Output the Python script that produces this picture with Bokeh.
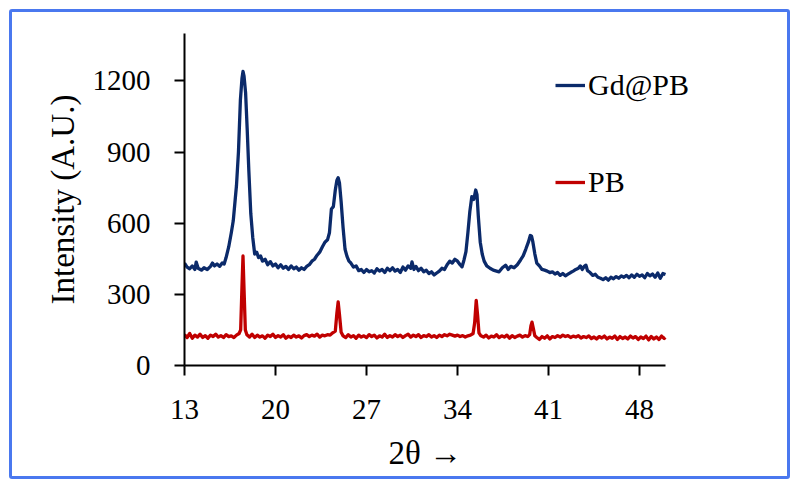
from bokeh.plotting import figure
from bokeh.models import Range1d, FixedTicker, Legend, LegendItem, Title
from bokeh.embed import file_html
from bokeh.resources import INLINE

# ---- data (2theta in degrees, intensity in A.U.) ----
gd_x = [13.0, 13.2, 13.4, 13.6, 13.8, 13.9, 14.05, 14.3, 14.5, 14.75, 15.0, 15.15, 15.3, 15.5, 15.7, 15.9,
        16.05, 16.2, 16.4, 16.6, 16.75, 16.9, 17.0, 17.15, 17.3, 17.42, 17.5, 17.58, 17.7, 17.82, 17.95,
        18.1, 18.25, 18.4, 18.55, 18.7, 18.85, 19.0, 19.2, 19.4, 19.6, 19.8, 20.0, 20.2, 20.4, 20.6, 20.8,
        21.0, 21.2, 21.4, 21.6, 21.8, 22.0, 22.2, 22.4, 22.6, 22.8, 23.0, 23.2, 23.4, 23.6, 23.8, 24.0,
        24.15, 24.3, 24.45, 24.6, 24.72, 24.82, 24.92, 25.05, 25.2, 25.35, 25.5, 25.65, 25.8, 26.0, 26.2,
        26.4, 26.6, 26.8, 27.0, 27.2, 27.4, 27.6, 27.8, 28.0, 28.2, 28.4, 28.6, 28.8, 29.0, 29.2, 29.4,
        29.6, 29.8, 30.0, 30.2, 30.4, 30.5, 30.65, 30.8, 31.0, 31.2, 31.4, 31.6, 31.8, 32.0, 32.2, 32.4,
        32.6, 32.8, 33.0, 33.2, 33.4, 33.6, 33.8, 34.0, 34.2, 34.35, 34.5, 34.65, 34.8, 34.95, 35.1, 35.25,
        35.4, 35.5, 35.6, 35.75, 35.9, 36.05, 36.25, 36.5, 36.75, 37.0, 37.2, 37.45, 37.7, 37.9, 38.1,
        38.35, 38.6, 38.85, 39.05, 39.25, 39.45, 39.6, 39.7, 39.8, 39.95, 40.1, 40.3, 40.5, 40.7, 40.9,
        41.1, 41.3, 41.5, 41.7, 41.9, 42.1, 42.3, 42.5, 42.7, 42.9, 43.1, 43.3, 43.45, 43.6, 43.75, 43.88,
        44.0, 44.2, 44.4, 44.6, 44.8, 45.0, 45.2, 45.4, 45.6, 45.8, 46.0, 46.2, 46.4, 46.6, 46.8, 47.0,
        47.2, 47.4, 47.6, 47.8, 48.0, 48.2, 48.4, 48.6, 48.8, 49.0, 49.2, 49.4, 49.6, 49.8, 50.0]
gd_y = [432, 415, 408, 420, 405, 436, 410, 402, 412, 405, 418, 432, 420, 428, 418, 432,
        428, 455, 500, 560, 610, 700, 760, 900, 1120, 1210, 1240, 1220, 1150, 1000, 820,
        640, 540, 470, 478, 455, 462, 440, 448, 425, 438, 420, 428, 412, 425, 410, 418,
        405, 420, 408, 415, 402, 412, 405, 418, 425, 440, 448, 465, 478, 500, 520, 530,
        560, 660, 670, 740, 780, 792, 770, 690, 580, 490, 460, 440, 432, 415, 420,
        400, 405, 392, 405, 395, 400, 390, 408, 398, 405, 392, 410, 400, 412, 398, 405,
        392, 415, 402, 420, 410, 437, 405, 418, 400, 410, 395, 402, 388, 395, 382, 390,
        398, 410, 405, 425, 440, 432, 448, 440, 425, 416, 445, 480, 560, 650, 712, 700,
        740, 720, 630, 520, 470, 440, 420, 410, 402, 398, 395, 412, 423, 405, 418,
        412, 425, 445, 462, 490, 520, 548, 545, 520, 470, 432, 420, 405, 402, 398,
        392, 395, 386, 392, 380, 388, 378, 385, 392, 398, 405, 410, 420, 405, 418, 423,
        400, 392, 380, 385, 372, 368, 362, 370, 360, 372, 366, 375, 368, 378, 372, 380,
        370, 382, 372, 385, 376, 382, 370, 388, 378, 386, 372, 390, 368, 388, 384]

pb_x = [13.0, 13.2, 13.4, 13.6, 13.8, 14.0, 14.2, 14.4, 14.6, 14.8, 15.0, 15.2, 15.4, 15.6, 15.8, 16.0,
        16.2, 16.4, 16.6, 16.8, 17.0, 17.2, 17.32, 17.42, 17.5, 17.58, 17.68, 17.8, 18.0, 18.2, 18.4,
        18.6, 18.8, 19.0, 19.2, 19.4, 19.6, 19.8, 20.0, 20.2, 20.4, 20.6, 20.8, 21.0, 21.2, 21.4, 21.6,
        21.8, 22.0, 22.2, 22.4, 22.6, 22.8, 23.0, 23.2, 23.4, 23.6, 23.8, 24.0, 24.2, 24.4, 24.6, 24.72,
        24.82, 24.92, 25.05, 25.2, 25.4, 25.6, 25.8, 26.0, 26.2, 26.4, 26.6, 26.8, 27.0, 27.2, 27.4,
        27.6, 27.8, 28.0, 28.2, 28.4, 28.6, 28.8, 29.0, 29.2, 29.4, 29.6, 29.8, 30.0, 30.2, 30.4, 30.6,
        30.8, 31.0, 31.2, 31.4, 31.6, 31.8, 32.0, 32.2, 32.4, 32.6, 32.8, 33.0, 33.2, 33.4, 33.6, 33.8,
        34.0, 34.2, 34.4, 34.6, 34.8, 35.0, 35.2, 35.32, 35.44, 35.55, 35.65, 35.8, 36.0, 36.2, 36.4,
        36.6, 36.8, 37.0, 37.2, 37.4, 37.6, 37.8, 38.0, 38.2, 38.4, 38.6, 38.8, 39.0, 39.2, 39.4, 39.55,
        39.65, 39.73, 39.82, 39.95, 40.1, 40.3, 40.5, 40.7, 40.9, 41.1, 41.3, 41.5, 41.7, 41.9, 42.1,
        42.3, 42.5, 42.7, 42.9, 43.1, 43.3, 43.5, 43.7, 43.9, 44.1, 44.3, 44.5, 44.7, 44.9, 45.1, 45.3,
        45.5, 45.7, 45.9, 46.1, 46.3, 46.5, 46.7, 46.9, 47.1, 47.3, 47.5, 47.7, 47.9, 48.1, 48.3, 48.5,
        48.7, 48.9, 49.1, 49.3, 49.5, 49.7, 49.9, 50.0]
pb_y = [130, 118, 135, 115, 128, 120, 132, 118, 126, 115, 128, 122, 132, 120, 126, 118,
        130, 122, 125, 118, 128, 135, 150, 330, 462, 320, 150, 130, 120, 132, 118,
        128, 120, 125, 115, 128, 122, 132, 118, 126, 120, 130, 115, 124, 118, 128, 120,
        125, 116, 126, 130, 122, 128, 124, 132, 120, 128, 125, 130, 128, 138, 145, 220,
        268, 215, 140, 125, 118, 130, 120, 126, 115, 128, 120, 125, 118, 130, 122,
        128, 116, 125, 120, 132, 118, 126, 120, 130, 122, 128, 118, 126, 132, 120, 128,
        122, 130, 118, 126, 122, 130, 120, 126, 118, 128, 122, 130, 125, 132, 128, 124,
        128, 122, 126, 120, 125, 128, 135, 180, 275, 210, 138, 125, 120, 128, 116,
        124, 120, 130, 118, 125, 120, 128, 115, 126, 118, 124, 128, 120, 126, 122, 130,
        168, 183, 160, 125, 118, 110, 122, 115, 125, 112, 122, 118, 126, 120, 128,
        122, 126, 118, 124, 120, 126, 116, 122, 118, 125, 114, 120, 112, 122, 116, 124,
        112, 120, 115, 124, 110, 122, 114, 120, 112, 124, 116, 122, 110, 120, 114, 124,
        108, 122, 112, 120, 110, 124, 114, 118]

x_ticks = [13, 20, 27, 34, 41, 48]
y_ticks = [0, 300, 600, 900, 1200]
series_names = ["Gd@PB", "PB"]
series_colors = ["#0b2a6a", "#c00000"]
x_label = "2θ \u2192"
y_label = "Intensity (A.U.)"

FONT = "Liberation Serif"

p = figure(width=781, height=470, output_backend="svg", toolbar_location=None,
           x_range=Range1d(13, 57), y_range=Range1d(0, 1400),
           min_border_left=172, min_border_right=37, min_border_top=21, min_border_bottom=117,
           background_fill_color="white", border_fill_color="white")
p.styles = {"margin-left": "9px", "margin-top": "9px",
            "border": "3px solid #4a78ef", "border-radius": "3px"}
p.outline_line_color = None
p.grid.visible = False

r_gd = p.line(gd_x, gd_y, line_color=series_colors[0], line_width=3.3, line_join="round")
r_pb = p.line(pb_x, pb_y, line_color=series_colors[1], line_width=3.3, line_join="round")

for ax in (p.xaxis[0], p.yaxis[0]):
    ax.axis_line_color = "black"
    ax.axis_line_width = 2
    ax.major_tick_line_color = "black"
    ax.major_tick_line_width = 2
    ax.major_tick_in = 0
    ax.major_tick_out = 10
    ax.minor_tick_line_color = None
    ax.major_label_text_font = FONT
    ax.major_label_text_font_size = "29px"
    ax.major_label_text_color = "black"
    ax.axis_label_text_font = FONT
    ax.axis_label_text_font_size = "33px"
    ax.axis_label_text_font_style = "normal"
    ax.axis_label_text_color = "black"

p.xaxis[0].ticker = FixedTicker(ticks=x_ticks)
p.xaxis[0].bounds = (13, 50)
p.yaxis[0].ticker = FixedTicker(ticks=y_ticks)
p.yaxis[0].axis_label = y_label
p.xaxis[0].major_label_standoff = 24
p.yaxis[0].major_label_standoff = 24
p.yaxis[0].axis_label_standoff = 9

# x-axis title, centred under the 13-50 part of the axis
p.add_layout(Title(text=x_label, align="left", offset=204, vertical_align="bottom", standoff=23,
                   text_font=FONT, text_font_size="33px", text_font_style="normal",
                   text_color="black"), "below")

legend = Legend(items=[LegendItem(label=series_names[0], renderers=[r_gd]),
                       LegendItem(label=series_names[1], renderers=[r_pb])],
                location=(371, 163), orientation="vertical",
                label_text_font=FONT, label_text_font_size="30px", label_text_color="black",
                glyph_width=30, glyph_height=40, label_height=40, label_standoff=3,
                spacing=57, padding=0, margin=0,
                border_line_color=None, background_fill_alpha=0)
p.add_layout(legend)

open("out.html", "w").write(file_html(p, INLINE))
